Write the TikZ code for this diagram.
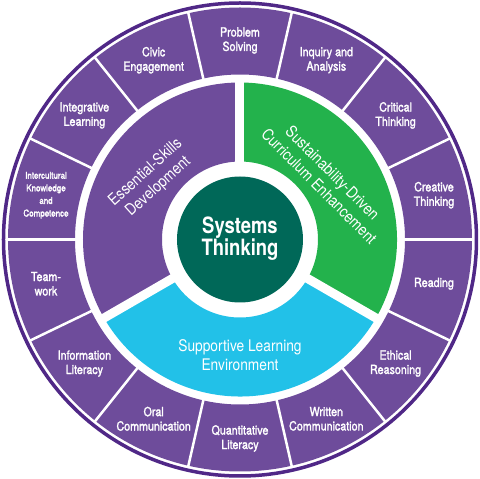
\documentclass[tikz,border=0pt]{standalone}
\usepackage{fontspec}
\setmainfont{TeX Gyre Heros}
\newfontfamily\outerfont{TeX Gyre Heros}[FakeStretch=0.85,FakeBold=1.8]
\newfontfamily\innerfont{TeX Gyre Heros}[FakeStretch=0.86]
\newfontfamily\centerfont{TeX Gyre Heros}[FakeStretch=0.82]
\definecolor{ringpurple}{RGB}{110,76,155}
\definecolor{edgepurple}{RGB}{80,40,135}
\definecolor{sgreen}{RGB}{35,178,76}
\definecolor{scyan}{RGB}{34,193,232}
\definecolor{steal}{RGB}{0,104,88}
\tikzset{
  outertext/.style={text=white, align=center, inner sep=0pt, font=\outerfont\fontsize{12.6}{14.4}\selectfont},
  smalltext/.style={text=white, align=center, inner sep=0pt, font=\outerfont\fontsize{9.4}{12.6}\selectfont},
  innertext/.style={text=white, align=center, inner sep=0pt, font=\innerfont\fontsize{16}{19}\selectfont},
  centertext/.style={text=white, align=center, inner sep=0pt, font=\centerfont\bfseries\fontsize{22.5}{22.5}\selectfont},
  gapline/.style={white, line width=2.5pt},
  sectorgap/.style={white, line width=9pt}
}
\begin{document}
\begin{tikzpicture}
\useasboundingbox (-240pt,-239.5pt) rectangle (240pt,239.5pt);
% outer outline
\draw[edgepurple, line width=3.5pt] (0,0) circle (236.5pt);
% outer ring
\fill[ringpurple, even odd rule] (0,0) circle (232pt) circle (165pt);
\foreach \k in {0,...,13} {
  \draw[gapline] ({77.142857+\k*25.714286}:162pt) -- ({77.142857+\k*25.714286}:234pt);
}
% inner sectors
\fill[ringpurple] (90:157pt) arc[start angle=90,end angle=210,radius=157pt] -- (210:78pt) arc[start angle=210,end angle=90,radius=78pt] -- cycle;
\fill[scyan] (210:157pt) arc[start angle=210,end angle=330,radius=157pt] -- (330:78pt) arc[start angle=330,end angle=210,radius=78pt] -- cycle;
\fill[sgreen] (-30:157pt) arc[start angle=-30,end angle=90,radius=157pt] -- (90:78pt) arc[start angle=90,end angle=-30,radius=78pt] -- cycle;
\foreach \a in {90,210,330} { \draw[sectorgap] (\a:70pt) -- (\a:160pt); }
% center
\fill[steal] (0,0) circle (63pt);
\node[centertext] (st) at (0,1pt) {Systems\\Thinking};
% inner labels
\node[innertext, rotate=42] (esd) at (-88pt,60pt) {Essential-Skills\\Development};
\node[innertext, rotate=-45] (sdce) at (86pt,60pt) {Sustainability-Driven\\Curriculum Enhancement};
\node[innertext] (sle) at (0,-116pt) {Supportive Learning\\Environment};
% outer labels
\node[outertext] (ps) at (90:199pt) {Problem\\Solving};
\node[outertext] (ia) at (64.2857:199pt) {Inquiry and\\Analysis};
\node[outertext] (ct) at (38.5714:199pt) {Critical\\Thinking};
\node[outertext] (crt) at (12.8571:199pt) {Creative\\Thinking};
\node[outertext] (rd) at (-12.8571:199pt) {Reading};
\node[outertext] (er) at (-38.5714:199pt) {Ethical\\Reasoning};
\node[outertext] (wc) at (-64.2857:199pt) {Written\\Communication};
\node[outertext] (ql) at (-90:199pt) {Quantitative\\Literacy};
\node[outertext] (oc) at (-115.7143:199pt) {Oral\\Communication};
\node[outertext] (il) at (-141.4286:199pt) {Information\\Literacy};
\node[outertext] (tw) at (-167.1429:199pt) {Team-\\work};
\node[smalltext] (ikc) at (167.1429:199pt) {Intercultural\\Knowledge\\and\\Competence};
\node[outertext] (inl) at (141.4286:199pt) {Integrative\\Learning};
\node[outertext] (ce) at (115.7143:199pt) {Civic\\Engagement};
\end{tikzpicture}
\end{document}
